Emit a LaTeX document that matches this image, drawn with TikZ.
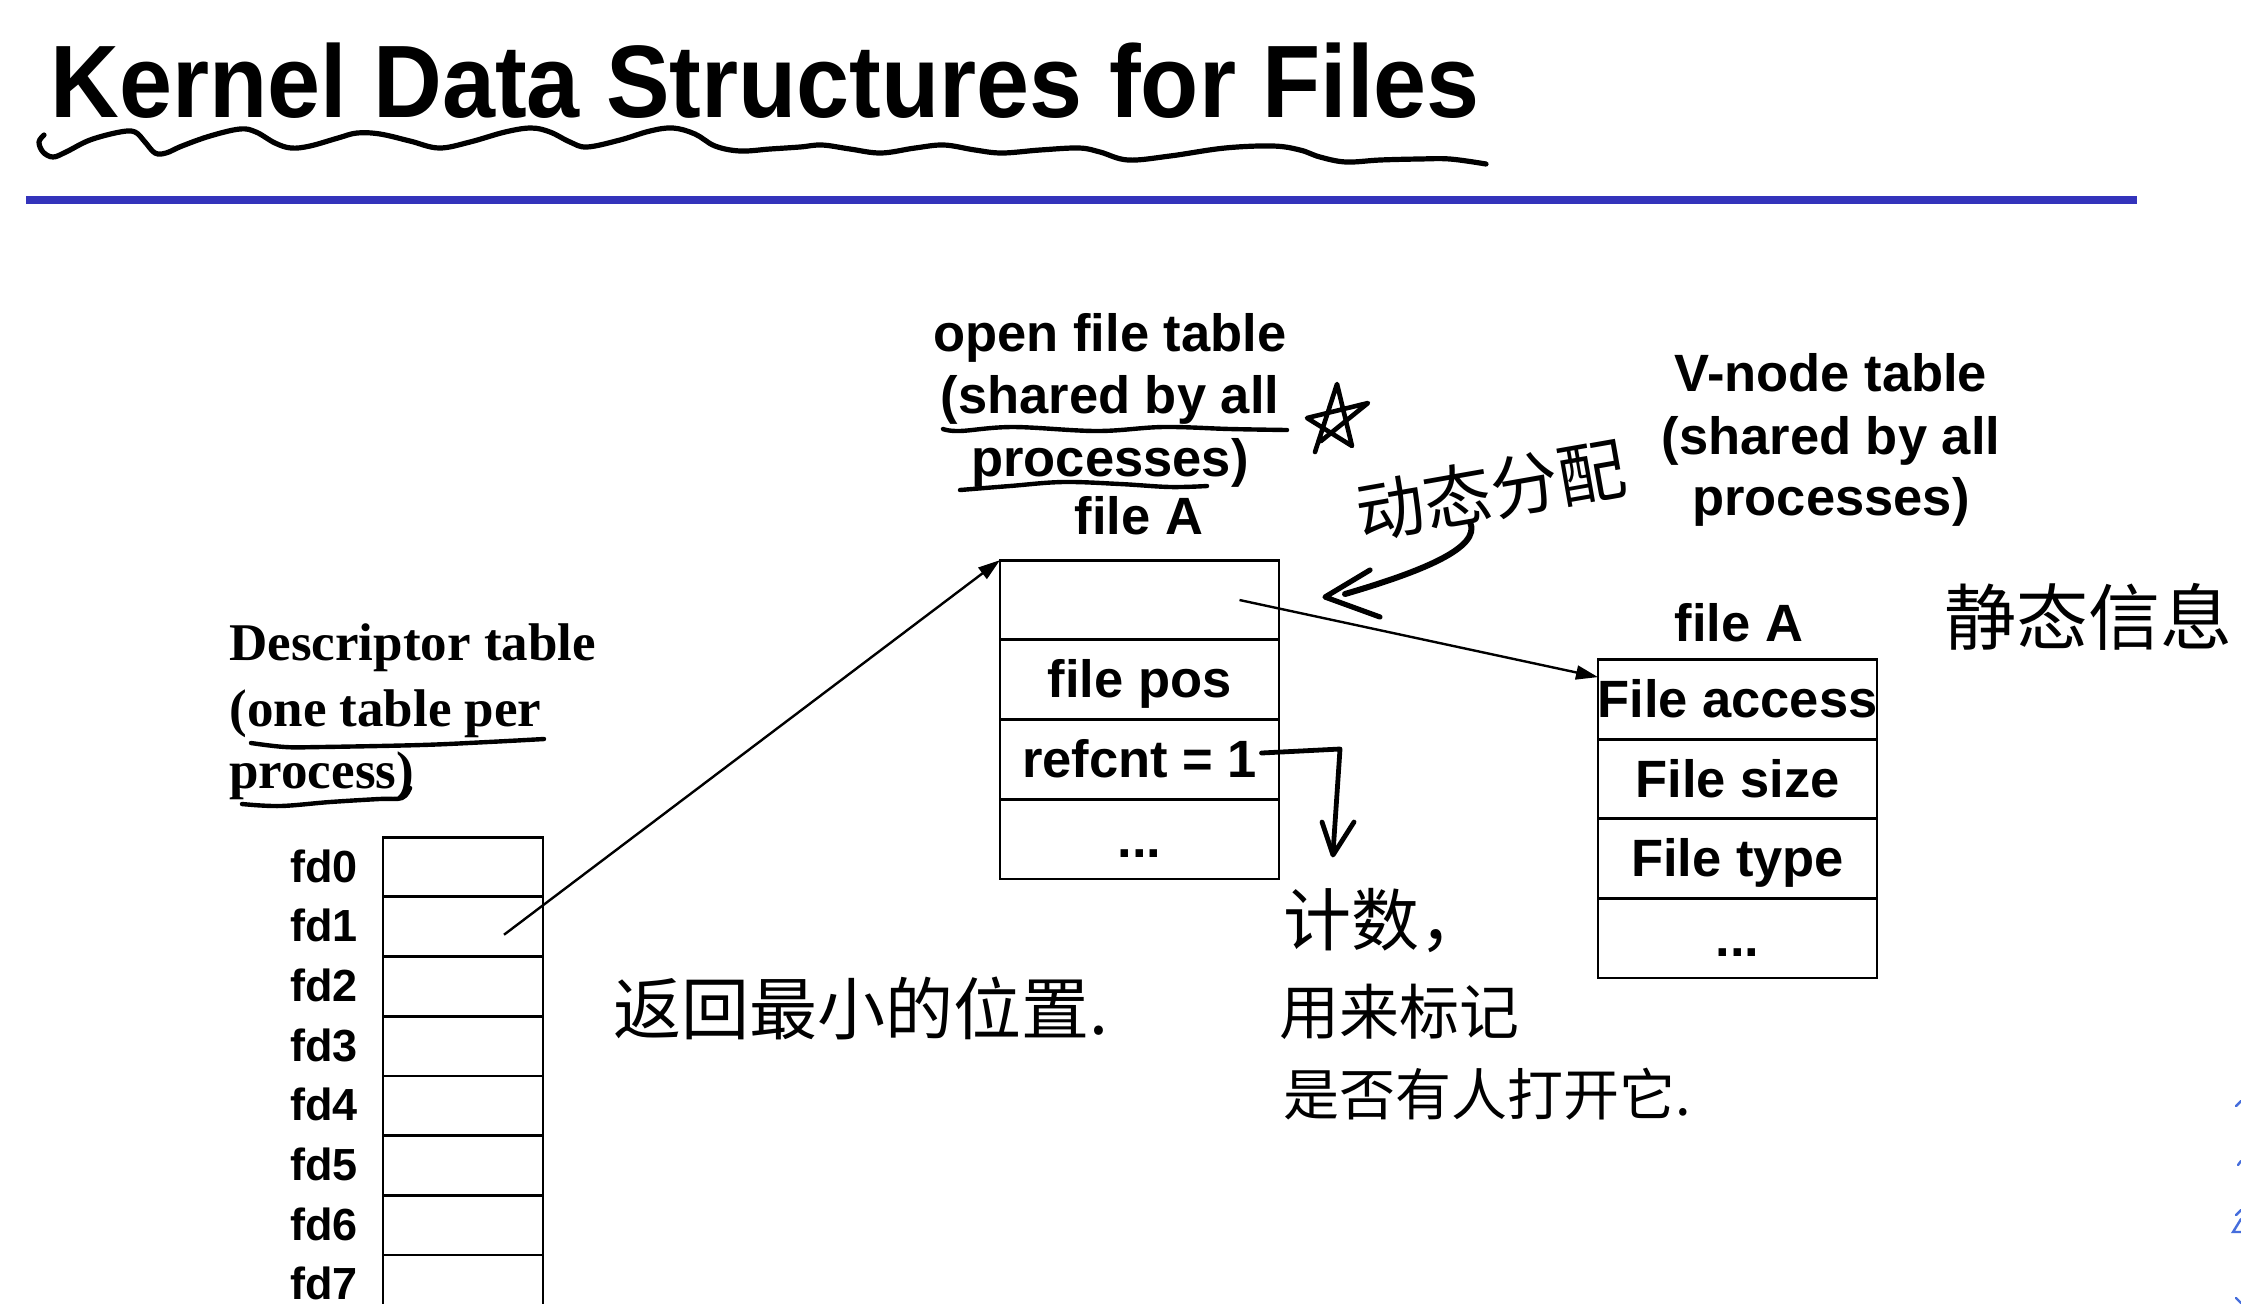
\documentclass[tikz,border=0pt]{standalone}
\usepackage{graphicx}
\usepackage{fontspec}
\setmainfont{Liberation Sans}
\newfontfamily\timesfam{Liberation Serif}
\newfontfamily\cjkhand{Noto Sans CJK SC}
\usetikzlibrary{arrows.meta,calc}
\definecolor{barblue}{RGB}{51,51,187}
\definecolor{inkblue}{RGB}{70,110,220}
\newcommand\ttlfont{\fontsize{51.5}{60}\selectfont\bfseries}
\newcommand\hdfont{\fontsize{26.25}{31.5}\selectfont\bfseries}
\newcommand\fdlabfont{\fontsize{22.5}{27}\selectfont\bfseries}
\newcommand\descfont{\timesfam\fontsize{26.5}{32}\selectfont\bfseries}
\newcommand\ctext[1]{\makebox[0pt]{#1}}

\tikzset{
  cell/.style={draw, line width=1.4pt, inner sep=0pt, outer sep=0pt,
    minimum width=139.5pt, minimum height=39.9pt, font=\hdfont,
    text height=20pt, text depth=2pt},
  fdcell/.style={draw, line width=1.4pt, inner sep=0pt, outer sep=0pt,
    minimum width=80pt, minimum height=29.85pt},
  hd/.style={font=\hdfont, inner sep=0pt, anchor=base},
  desc/.style={font=\descfont, inner sep=0pt, anchor=base west},
  fdlab/.style={font=\fdlabfont, inner sep=0pt, anchor=base east},
  ptr/.style={line width=1.2pt, -{Triangle[length=11pt,width=7pt]}},
  hw/.style={line width=2.6pt, line cap=round, line join=round},
  note/.style={font=\cjkhand, inner sep=0pt},
}

\begin{document}
\begin{tikzpicture}[x=0.5pt,y=-0.5pt]
\useasboundingbox (0,0) rectangle (2241,1303);
\fill[white] (0,0) rectangle (2241,1303);
\clip (0,0) rectangle (2241,1303);

% ---- title, wavy underline and rule ----
\node[font=\ttlfont, inner sep=0pt, anchor=base west] (title) at (50,117)
  {\scalebox{0.925}[1]{Kernel Data Structures for Files}};
\draw[hw, line width=2.6pt] plot[smooth, tension=0.6] coordinates {
  (44,135) (39,142) (43,152) (53,157) (66,152) (90,140) (120,132) (135,132)
  (145,142) (155,153) (166,153) (182,146) (210,136) (240,129) (256,132)
  (275,143) (291,148) (310,146) (338,138) (357,133) (380,134) (410,141)
  (439,148) (470,142) (505,132) (531,128) (550,132) (570,142) (587,147)
  (620,140) (650,131) (673,128) (695,134) (715,146) (740,151) (770,149)
  (800,147) (822,145) (850,149) (881,153) (915,148) (944,145) (975,150)
  (1002,153) (1040,150) (1079,148) (1100,152) (1128,160) (1170,156)
  (1225,148) (1273,146) (1300,150) (1320,157) (1346,162) (1380,160)
  (1419,159) (1450,159) (1486,164)};
\fill[barblue] (26,196) rectangle (2137,204);

% ---- descriptor table ----
\node[desc] (dh1) at (229,660) {Descriptor table};
\node[desc] (dh2) at (229,726) {(one table per};
\node[desc] (dh3) at (229,788) {process)};
\draw[hw, line width=2.2pt] plot[smooth, tension=0.6] coordinates {
  (251,743) (285,747) (321,747) (421,745) (488,742) (544,739)};
\draw[hw, line width=2.2pt] plot[smooth, tension=0.6] coordinates {
  (242,804) (280,806) (330,802) (379,799) (402,798) (410,788)};
\foreach \i in {0,...,7} {
  \node[fdcell] (d\i) at (463,{867+59.7*\i}) {};
  \node[fdlab] (fd\i) at ($(d\i.west)+(-25,15)$) {fd\i};
}

% ---- open file table ----
\node[hd] (oh1) at (1110,351) {open file table};
\node[hd] (oh2) at (1110,413) {(shared by all};
\node[hd] (oh3) at (1110,476) {processes)};
\node[hd] (oh4) at (1139,534) {file A};
\draw[hw, line width=2.2pt] plot[smooth, tension=0.6] coordinates {
  (943,429) (960,431) (1013,427) (1097,431) (1163,427) (1230,429) (1287,430)};
\draw[hw, line width=2.2pt] plot[smooth, tension=0.6] coordinates {
  (960,490) (1010,486) (1063,482) (1120,484) (1170,487) (1207,486)};
\node[cell] (o0) at (1139.5,600) {};
\node[cell] (o1) at (1139.5,679.5) {\ctext{file pos}};
\node[cell] (o2) at (1139.5,759) {\ctext{refcnt = 1}};
\node[cell] (o3) at (1139.5,839) {\ctext{...}};

% ---- v-node table ----
\node[hd] (vh1) at (1831,391) {V-node table};
\node[hd] (vh2) at (1831,454) {(shared by all};
\node[hd] (vh3) at (1831,515) {processes)};
\node[hd] (vh4) at (1739,641) {file A};
\node[cell] (v0) at (1737.5,699) {\ctext{File access}};
\node[cell] (v1) at (1737.5,779) {\ctext{File size}};
\node[cell] (v2) at (1737.5,858.5) {\ctext{File type}};
\node[cell] (v3) at (1737.5,938) {\ctext{...}};

% ---- pointers ----
\draw[ptr] ($(d1.center)+(41,8)$) -- (o0.north west);
\draw[ptr] ($(o0.center)+(100,0)$) -- ($(v0.north west)+(0,18)$);

% ---- hand-written notes ----
% star and "dynamic allocation"
\draw[hw, line width=2.3pt] (1315,452) -- (1337,384) -- (1352,446)
  -- (1307,418) -- (1368,403) -- (1321,441);
\node[note, font=\cjkhand\fontsize{34}{40}\selectfont, rotate=10] (dyn)
  at (1491,490) {动态分配};
\draw[hw, line width=3pt] (1470,522) .. controls (1482,548) and (1420,572) .. (1345,594);
\draw[hw] (1370,570) -- (1325,597) -- (1380,617);

% refcnt arrow
\coordinate (rcend) at ($(o2.center)+(122,-6)$);
\draw[hw, line width=2.4pt] (rcend) -- (1340,749) -- (1333,853);
\draw[hw, line width=2.4pt] (1322,822) -- (1333,855) -- (1354,822);

\node[note, font=\cjkhand\fontsize{34}{40}\selectfont, anchor=west] (cnt1)
  at (1283,921) {计数，};
\node[note, font=\cjkhand\fontsize{30}{36}\selectfont, anchor=west] (cnt2)
  at (1279,1012) {用来标记};
\node[note, font=\cjkhand\fontsize{28}{34}\selectfont, anchor=west] (cnt3)
  at (1283,1094) {是否有人打开它.};

\node[note, font=\cjkhand\fontsize{34}{40}\selectfont, anchor=west] (ret)
  at (613,1008) {返回最小的位置.};
\node[note, font=\cjkhand\fontsize{36}{42}\selectfont, anchor=west] (stat)
  at (1944,617) {静态信息};

% stray blue pen marks at the right border
\begin{scope}[inkblue, line width=1.2pt, line cap=round]
  \draw (2236,1106) -- (2241,1101);
  \draw (2238,1165) -- (2241,1161);
  \draw (2236,1215) -- (2241,1210);
  \draw (2241,1219) -- (2233,1232) -- (2241,1232);
  \draw (2236,1298) -- (2241,1303);
\end{scope}
\end{tikzpicture}
\end{document}
